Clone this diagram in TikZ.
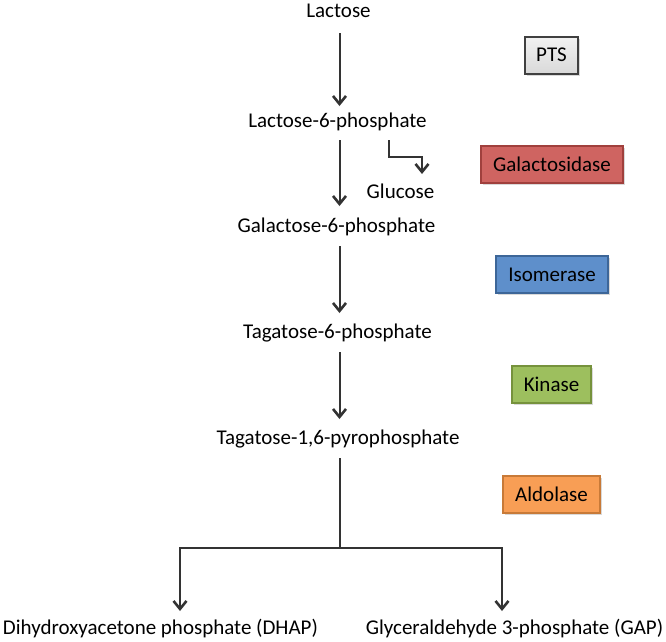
\documentclass[tikz,border=0pt]{standalone}
\usepackage{fontspec}
\setmainfont{Carlito}
\usetikzlibrary{arrows.meta,shadows}
\definecolor{ptsfill}{HTML}{E4E4E4}
\definecolor{galfill}{HTML}{CF6461}
\definecolor{galdraw}{HTML}{A0403D}
\definecolor{isofill}{HTML}{5E8FCB}
\definecolor{isodraw}{HTML}{3D6698}
\definecolor{kinfill}{HTML}{9DBF5E}
\definecolor{kindraw}{HTML}{76923C}
\definecolor{aldfill}{HTML}{F89E55}
\definecolor{alddraw}{HTML}{C87A38}
\tikzset{
  lbl/.style={font=\fontsize{21}{25}\selectfont, inner sep=0pt, anchor=center},
  enz/.style={draw, line width=2pt, minimum height=37pt, font=\fontsize{21}{25}\selectfont, inner sep=0pt,
    drop shadow={shadow xshift=1.5pt, shadow yshift=-2pt, opacity=0.3}},
  conn/.style={line width=2pt, black!80},
  arr/.style={conn, -{Straight Barb[length=8pt,width=13pt,line width=2.6pt]}},
}
\begin{document}
\begin{tikzpicture}[x=1pt,y=-1pt]
\useasboundingbox (0,0) rectangle (666,641);
\node[lbl] (lac) at (338.5,11) {Lactose};
\node[lbl] (l6p) at (337.5,122) {Lactose-6-phosphate};
\node[lbl] (glu) at (400.5,191) {Glucose};
\node[lbl] (g6p) at (336.5,227) {Galactose-6-phosphate};
\node[lbl] (t6p) at (337.5,333) {Tagatose-6-phosphate};
\node[lbl] (tpp) at (338,439) {Tagatose-1,6-pyrophosphate};
\node[lbl] (dhap) at (160.5,628) {Dihydroxyacetone phosphate (DHAP)};
\node[lbl] (gap) at (514.5,628) {Glyceraldehyde 3-phosphate (GAP)};

\node[enz, fill=ptsfill, draw=black!75, top color=white!95!black, bottom color=black!15, minimum width=53pt] (pts) at (551.5,55) {PTS};
\node[enz, fill=galfill, draw=galdraw, minimum width=142pt] (gal) at (552,164.5) {Galactosidase};
\node[enz, fill=isofill, draw=isodraw, minimum width=112pt] (iso) at (552,274.5) {Isomerase};
\node[enz, fill=kinfill, draw=kindraw, minimum width=79pt] (kin) at (551.5,384.5) {Kinase};
\node[enz, fill=aldfill, draw=alddraw, minimum width=97pt] (ald) at (551.5,494) {Aldolase};

\coordinate (s1) at (389,140);
\coordinate (s2) at (389,157);
\coordinate (s3) at (422,157);
\coordinate (s4) at (422,174);
\coordinate (split) at (339.5,548);
\coordinate (dl) at (180,548);
\coordinate (dr) at (502,548);
\coordinate (dle) at (180,611);
\coordinate (dre) at (502,611);

\draw[arr] (339.5,33) -- (339.5,106);
\draw[arr] (339.5,140) -- (339.5,206);
\draw[arr] (339.5,246) -- (339.5,313);
\draw[arr] (339.5,352) -- (339.5,419);
\draw[arr] (s1) -- (s2) -- (s3) -- (s4);
\draw[conn] (339.5,458) -- (split);
\draw[arr] (split) -- (dl) -- (dle);
\draw[arr] (split) -- (dr) -- (dre);
\end{tikzpicture}
\end{document}
